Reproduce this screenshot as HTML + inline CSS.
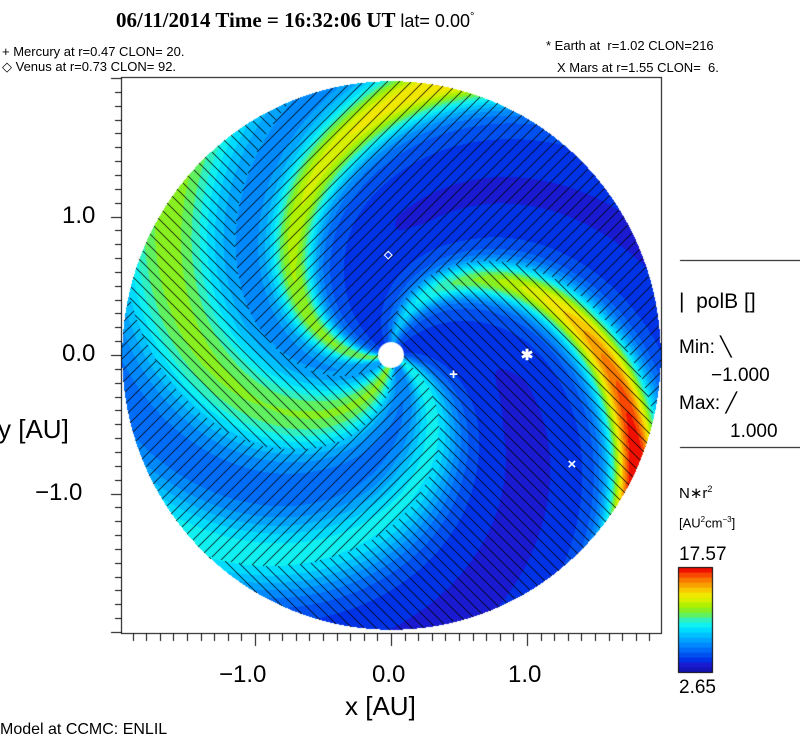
<!DOCTYPE html>
<html><head><meta charset="utf-8">
<style>
html,body{margin:0;padding:0;background:#fff;}
#root{position:relative;width:800px;height:746px;overflow:hidden;font-family:"Liberation Sans",sans-serif;color:#000;}
.t{position:absolute;white-space:pre;line-height:1;}
canvas{position:absolute;left:0;top:0;}
</style></head><body>
<div id="root">
<canvas id="cv" width="800" height="746"></canvas>
<div class="t" style="left:116px;top:10px;font-family:'Liberation Serif',serif;font-weight:bold;font-size:21px;">06/11/2014 Time = 16:32:06 UT <span style="font-family:'Liberation Sans',sans-serif;font-weight:normal;font-size:18px;">lat= 0.00<sup style="font-size:11px">°</sup></span></div>
<div class="t" style="left:2px;top:45px;font-size:13px;">+ Mercury at r=0.47 CLON= 20.</div>
<div class="t" style="left:2px;top:60px;font-size:13px;">◇ Venus at r=0.73 CLON= 92.</div>
<div class="t" style="left:546px;top:39px;font-size:13px;">* Earth at  r=1.02 CLON=216</div>
<div class="t" style="left:557px;top:61px;font-size:13px;">X Mars at r=1.55 CLON=  6.</div>
<div class="t" style="left:-2px;top:416px;font-size:26px;">y [AU]</div>
<div class="t" style="left:345px;top:693px;font-size:26px;">x [AU]</div>
<div class="t" style="left:0px;top:722px;font-size:16px;">Model at CCMC: ENLIL</div>
<div class="t" style="left:679px;top:291px;font-size:21px;">|  polB []</div>
<div class="t" style="left:679px;top:338px;font-size:19px;">Min: ╲</div>
<div class="t" style="left:711px;top:366px;font-size:19px;">−1.000</div>
<div class="t" style="left:679px;top:394px;font-size:19px;">Max: ╱</div>
<div class="t" style="left:730px;top:422px;font-size:19px;">1.000</div>
<div class="t" style="left:679px;top:485px;font-size:15px;">N∗r<sup style="font-size:9px">2</sup></div>
<div class="t" style="left:679px;top:516px;font-size:13px;">[AU<sup style="font-size:8px">2</sup>cm<sup style="font-size:8px">−3</sup>]</div>
<div class="t" style="left:679px;top:545px;font-size:19px;">17.57</div>
<div class="t" style="left:679px;top:678px;font-size:19px;">2.65</div>
</div>
<script>
// data
const armPhase = [88, 193, 258, 335];     // spiral phase (deg) of density arms
const armWidth = [8, 9, 18, 13];          // phase half-width (deg)
const armPeak  = [0.5, 3.8, 5.0, 3.2];    // peak density excess
const armGrowth= [6.0, 2.0, 0.4, 0.3];    // excess growth per AU
const haloWidth = [22, 24, 35, 26];       // broad halo width (deg)
const haloPeak  = [2.0, 2.2, 2.0, 1.8];   // broad halo excess
const baseDensity = 3.7;
const vMin = 2.65, vMax = 17.57;
const slashSectors = [[100,225],[280,340]]; // phase ranges with "/" polarity
const xTicks = [-1.0, 0.0, 1.0];
const yTicks = [-1.0, 0.0, 1.0];
const planetNames = ['mercury','venus','earth','mars'];
const planetX = [0.46, -0.02, 1.0, 1.33];
const planetY = [-0.14, 0.72, 0.0, -0.79];
const planetSym = ['+','◇','✱','×'];
const colors = ['#1414b4','#1a1ad0','#0032e6','#0050f0','#006cf8','#0088ff','#00a4ff','#00c0ff','#00dcff','#10f0f0','#30f0c0','#60f060','#88f020','#b0f000','#d8f000','#f0e800','#f8c800','#f8a000','#f87800','#f84800','#f01000'];

const cx=391, cy=355, sx=136, sy=138.5, R=1.98;
const X = v => cx + v*sx, Y = v => cy - v*sy;
const cv=document.getElementById('cv'), ctx=cv.getContext('2d');

function dwrap(a){a=((a%360)+540)%360-180;return a;}
function density(r,ph){
  let v=baseDensity+0.6*Math.max(0,1-r);
  for(let i=0;i<armPhase.length;i++){
    const d=dwrap(ph-armPhase[i]);
    v+=(armPeak[i]+armGrowth[i]*r)*Math.exp(-(d*d)/(2*armWidth[i]*armWidth[i]));
    v+=haloPeak[i]*Math.exp(-(d*d)/(2*haloWidth[i]*haloWidth[i]));
  }
  return v;
}
const img=ctx.createImageData(800,746);
function hex(c){return [parseInt(c.substr(1,2),16),parseInt(c.substr(3,2),16),parseInt(c.substr(5,2),16)];}
const cols=colors.map(hex);
for(let py=78;py<634;py++){for(let px=122;px<662;px++){
  const x=(px-cx)/sx, y=(cy-py)/sy, r=Math.hypot(x,y);
  if(r>R) continue;
  let th=Math.atan2(y,x)*180/Math.PI;
  const ph=(((th+57*r)%360)+360)%360;
  let v=density(r,ph);
  let k=Math.floor((v-vMin)/(vMax-vMin)*cols.length);
  k=Math.max(0,Math.min(cols.length-1,k));
  let c=cols[k];
  let slash=slashSectors.some(s=>ph>=s[0]&&ph<s[1]);
  let h = slash ? ((px+py)%12===0) : (((px-py)%12+12)%12===0);
  if(h) c=[0,0,0];
  const o=(py*800+px)*4; img.data[o]=c[0];img.data[o+1]=c[1];img.data[o+2]=c[2];img.data[o+3]=255;
}}
ctx.putImageData(img,0,0);
ctx.fillStyle='#fff';ctx.beginPath();ctx.arc(cx,cy,13,0,Math.PI*2);ctx.fill();
ctx.strokeStyle='#000';ctx.lineWidth=1;ctx.strokeRect(121.5,77.5,540,556);
ctx.beginPath();
for(let i=-19;i<=19;i++){const v=i/10,px=Math.round(X(v))+0.5;if(px<122||px>661)continue;const L=(i%10===0)?12:7;ctx.moveTo(px,634);ctx.lineTo(px,634+L);}
for(let i=-20;i<=20;i++){const v=i/10,py=Math.round(Y(v))+0.5;if(py<78||py>633)continue;const L=(i%10===0)?10:6;ctx.moveTo(121,py);ctx.lineTo(121-L,py);}
ctx.moveTo(680,260.5);ctx.lineTo(800,260.5);ctx.moveTo(680,447.5);ctx.lineTo(800,447.5);
ctx.stroke();
const cbTop=567,cbBot=672,cbL=678,cbR=712;
for(let i=0;i<cols.length;i++){const h=(cbBot-cbTop)/cols.length;ctx.fillStyle=colors[i];ctx.fillRect(cbL,cbBot-(i+1)*h,cbR-cbL,h+0.6);}
ctx.strokeRect(cbL+0.5,cbTop+0.5,cbR-cbL,cbBot-cbTop);
const root=document.getElementById('root');
function lab(txt,l,t,name){const d=document.createElement('div');d.className='t';d.textContent=txt;d.style.left=l+'px';d.style.top=t+'px';d.style.fontSize='24px';


root.appendChild(d);return d;}
xTicks.forEach(v=>{const s=v<0?'−'+Math.abs(v).toFixed(1):v.toFixed(1);const d=lab(s,0,663,'x-tick-label');d.style.left=(X(v)-(v<0?36:19))+'px';});
yTicks.forEach(v=>{const s=v<0?'−'+Math.abs(v).toFixed(1):v.toFixed(1);const d=lab(s,0,Y(v)-13,'y-tick-label');d.style.left=(v<0?35:62)+'px';});
planetNames.forEach((n,i)=>{const d=document.createElement('div');d.className='t';d.textContent=planetSym[i];d.style.color='#fff';d.style.fontSize=(i===1?11:15)+'px';d.style.fontWeight='bold';


root.appendChild(d);const w=d.getBoundingClientRect();d.style.left=(X(planetX[i])-w.width/2)+'px';d.style.top=(Y(planetY[i])-w.height/2)+'px';});
</script>
</body></html>
